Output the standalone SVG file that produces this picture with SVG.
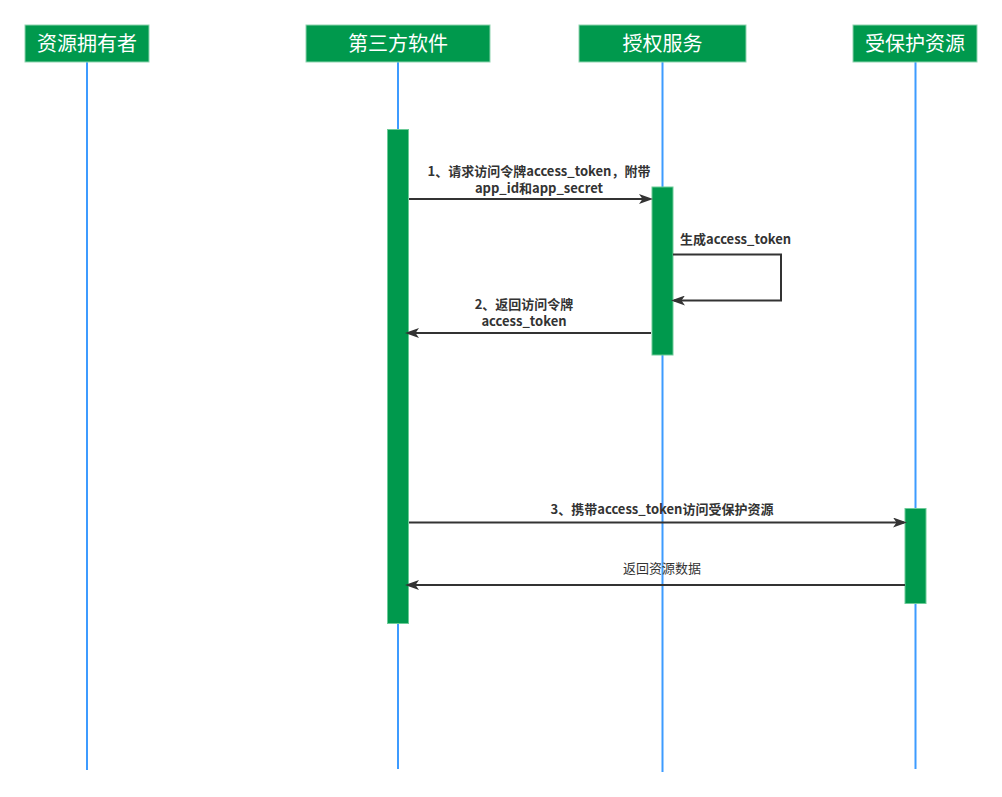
<svg xmlns="http://www.w3.org/2000/svg" width="1002" height="797" viewBox="0 0 1002 797">
  <style>
    .hdr { fill: #00994D; stroke: #8fd4b0; stroke-width: 1; }
    .hdrt { fill: #ffffff; font-family: "Noto Sans CJK SC", "Liberation Sans", sans-serif; font-size: 20px; text-anchor: middle; }
    .life { stroke: #3d9bff; stroke-width: 2; fill: none; }
    .act { fill: #00994D; stroke: #6ccb98; stroke-width: 1; }
    .msg { stroke: #333333; stroke-width: 2; fill: none; }
    .lbl { fill: #333333; font-family: "Noto Sans CJK SC", "Liberation Sans", sans-serif; font-size: 13px; font-weight: bold; }
    .lbln { font-weight: normal; }
  </style>
  <defs>
    <marker id="arr" viewBox="0 0 14 10" refX="11" refY="5" markerWidth="14" markerHeight="10" markerUnits="userSpaceOnUse" orient="auto">
      <path d="M0,0 L14,5 L0,10 L3.5,5 z" fill="#333333"/>
    </marker>
  </defs>
  <rect width="1002" height="797" fill="#ffffff"/>

  <g id="owner">
    <line class="life" x1="87" y1="62" x2="87" y2="770"/>
    <rect class="hdr" x="25" y="25" width="124" height="37"/>
    <text class="hdrt" x="87" y="51">资源拥有者</text>
  </g>

  <g id="client">
    <line class="life" x1="398" y1="62" x2="398" y2="769"/>
    <rect class="hdr" x="306" y="25" width="184" height="37"/>
    <text class="hdrt" x="398" y="51">第三方软件</text>
    <rect class="act" x="387.5" y="129.5" width="21" height="494"/>
  </g>

  <g id="auth">
    <line class="life" x1="662.5" y1="62" x2="662.5" y2="772"/>
    <rect class="hdr" x="579" y="25" width="167" height="37"/>
    <text class="hdrt" x="662.5" y="51">授权服务</text>
    <rect class="act" x="652" y="187" width="21" height="168"/>
  </g>

  <g id="resource">
    <line class="life" x1="915.5" y1="62" x2="915.5" y2="769"/>
    <rect class="hdr" x="853" y="25" width="124" height="37"/>
    <text class="hdrt" x="915" y="51">受保护资源</text>
    <rect class="act" x="905" y="508.5" width="21" height="95"/>
  </g>

  <g id="connectors">
    <path class="msg" d="M409,199 L650,199" marker-end="url(#arr)"/>
    <text class="lbl" text-anchor="middle" x="539" y="176">1、请求访问令牌access_token，附带</text>
    <text class="lbl" text-anchor="middle" x="539" y="193">app_id和app_secret</text>

    <path class="msg" d="M673,254.5 L781,254.5 L781,300.5 L674,300.5" marker-end="url(#arr)"/>
    <text class="lbl" x="680" y="244">生成access_token</text>

    <path class="msg" d="M651,333 L408,333" marker-end="url(#arr)"/>
    <text class="lbl" text-anchor="middle" x="524" y="309">2、返回访问令牌</text>
    <text class="lbl" text-anchor="middle" x="524" y="326">access_token</text>

    <path class="msg" d="M409,522.5 L904,522.5" marker-end="url(#arr)"/>
    <text class="lbl" text-anchor="middle" x="662" y="514">3、携带access_token访问受保护资源</text>

    <path class="msg" d="M905,585 L408,585" marker-end="url(#arr)"/>
    <text class="lbl lbln" text-anchor="middle" x="662" y="573">返回资源数据</text>
  </g>
</svg>
